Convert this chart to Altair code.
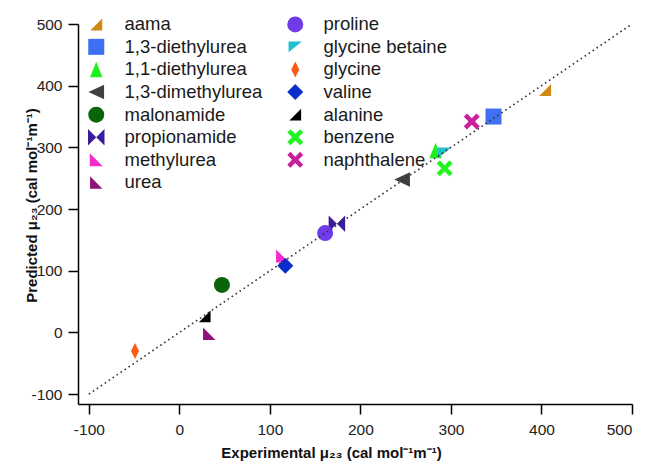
import altair as alt
import pandas as pd

# ---- data ----
names = ["aama", "1,3-diethylurea", "1,1-diethylurea", "1,3-dimethylurea",
         "malonamide", "propionamide", "methylurea", "urea",
         "proline", "glycine betaine", "glycine", "valine", "alanine",
         "benzene", "naphthalene"]
experimental = [404, 347, 283, 246, 47, 174, 114, 33, 161, 293, -49, 117, 28, 293, 323]
predicted = [393, 350, 295, 248, 77, 176, 124, -2, 161, 291, -30, 108, 26, 266, 342]

line_x = [-100, 500]
line_y = [-100, 500]

tick_values = [-100, 0, 100, 200, 300, 400, 500]

# ---- styles ----
colors = ["#CF8A14", "#3F6FF2", "#1EF01E", "#404040", "#0A640A", "#3B1C9C",
          "#F52ACD", "#8C1478", "#6F3BE8", "#1FC1CF", "#FF5A14", "#0B2DCC",
          "#000000", "#22F522", "#C8209D"]
X_PATH = ("M-1,-0.6L-0.6,-1L0,-0.4L0.6,-1L1,-0.6L0.4,0L1,0.6L0.6,1"
          "L0,0.4L-0.6,1L-1,0.6L-0.4,0Z")
shapes = [
    "M-1,1L1,1L1,-1Z",                      # aama  (lower-right triangle)
    "square",                                # 1,3-diethylurea
    "M0,-1L0.8,1L-0.8,1Z",                   # 1,1-diethylurea (up triangle)
    "M-1,0L1,-0.92L1,0.92Z",                 # 1,3-dimethylurea (left triangle)
    "circle",                                # malonamide
    "M-1,-1L0,0L-1,1ZM1,-1L0,0L1,1Z",        # propionamide (bowtie)
    "M-1,-1L-1,1L1,1Z",                      # methylurea
    "M-1,-1L-1,1L1,1Z",                      # urea
    "circle",                                # proline
    "M-1,-0.8L1,-0.8L-1,0.8Z",               # glycine betaine
    "M0,-1L0.5,0L0,1L-0.5,0Z",               # glycine (thin diamond)
    "diamond",                               # valine
    "M-1,1L1,1L1,-1Z",                       # alanine
    X_PATH,                                  # benzene
    X_PATH,                                  # naphthalene
]
sizes = [144, 256, 243, 246, 256, 272, 169, 154, 256, 180, 256, 256, 137, 256, 256]

df = pd.DataFrame({"name": names, "exp": experimental, "pred": predicted})
line_df = pd.DataFrame({"x": line_x, "y": line_y})

FONT = "Liberation Sans"

xscale = alt.Scale(domain=[-112, 500], nice=False, zero=False)
yscale = alt.Scale(domain=[-116, 500], nice=False, zero=False)

xaxis = alt.Axis(values=tick_values, title="Experimental μ₂₃ (cal mol⁻¹m⁻¹)",
                 labelExpr="toString(datum.value)", grid=False,
                 titleX=253, titleY=48, titleAlign="center", titleBaseline="middle",
                 labelPadding=8)
yaxis = alt.Axis(values=tick_values, title="Predicted μ₂₃ (cal mol⁻¹m⁻¹)",
                 labelExpr="toString(datum.value)", grid=False,
                 titleX=-47, titleY=181, titleAlign="center", titleBaseline="middle",
                 labelPadding=6)

points = alt.Chart(df).mark_point(filled=True, opacity=1, strokeWidth=0).encode(
    x=alt.X("exp:Q", scale=xscale, axis=xaxis),
    y=alt.Y("pred:Q", scale=yscale, axis=yaxis),
    color=alt.Color("name:N", scale=alt.Scale(domain=names, range=colors),
                    legend=alt.Legend(orient="none", legendX=9, legendY=-9,
                                      columns=2, title=None, padding=0,
                                      labelFontSize=18.5, labelFont=FONT,
                                      labelColor="#1a1a1a",
                                      symbolSize=170, symbolStrokeWidth=0,
                                      symbolOpacity=1,
                                      rowPadding=3.6, columnPadding=23,
                                      labelOffset=19)),
    shape=alt.Shape("name:N", scale=alt.Scale(domain=names, range=shapes)),
    size=alt.Size("name:N", scale=alt.Scale(type="ordinal", domain=names, range=sizes),
                  legend=None),
    order=alt.Order("idx:Q"),
).transform_calculate(idx="indexof(" + str(names) + ", datum.name)")

line = alt.Chart(line_df).mark_line(color="#333333", strokeWidth=1.6,
                                    strokeDash=[1.6, 3.2]).encode(
    x=alt.X("x:Q", scale=xscale),
    y=alt.Y("y:Q", scale=yscale),
)

chart = alt.layer(points, line).properties(
    width=554, height=380,
    padding={"left": 78, "top": 24, "right": 14, "bottom": 59},
    autosize=alt.AutoSizeParams(type="none"),
    background="white",
).configure_view(stroke=None).configure_axis(
    domainColor="#000000", domainWidth=1.5, tickColor="#000000", tickWidth=1.5,
    tickSize=10, labelFont=FONT, labelFontSize=15.5, labelColor="#222222",
    titleFont=FONT, titleFontSize=15, titleFontWeight="bold", titleColor="#111111",
)

chart.save("out.html", embed_options={"renderer": "svg", "actions": False})
